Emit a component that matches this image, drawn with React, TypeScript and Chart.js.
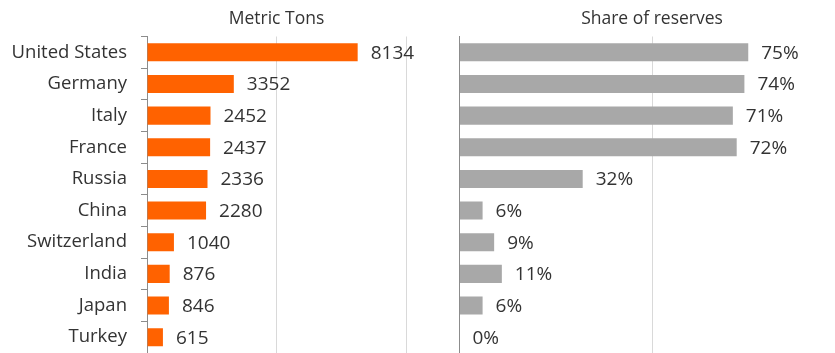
import React, { useEffect, useRef } from "react";
import { Chart, registerables } from "chart.js";

Chart.register(...registerables);

const countries = ["United States", "Germany", "Italy", "France", "Russia", "China", "Switzerland", "India", "Japan", "Turkey"];
const metricTons = [8134, 3352, 2452, 2437, 2336, 2280, 1040, 876, 846, 615];
const shareOfReserves = [75, 74, 71, 72, 32, 6, 9, 11, 6, 0];
const leftTitle = "Metric Tons";
const rightTitle = "Share of reserves";

const FONT = "'Open Sans', 'Noto Sans', sans-serif";
const TEXT = "#333333";

const valueLabels = {
  id: "valueLabels",
  afterDatasetsDraw(chart: any, _args: any, opts: any) {
    const ctx = chart.ctx;
    const meta = chart.getDatasetMeta(0);
    const data = chart.data.datasets[0].data;
    ctx.save();
    ctx.font = `${opts.size || 17}px ${FONT}`;
    ctx.fillStyle = TEXT;
    ctx.textAlign = "left";
    ctx.textBaseline = "middle";
    meta.data.forEach((bar: any, i: number) => {
      const txt = String(data[i]) + (opts.suffix || "");
      ctx.fillText(txt, bar.x + 13, bar.y + 1);
    });
    ctx.restore();
  },
};

function makeConfig(values: number[], color: string, title: string, max: number, step: number, yWidth: number, padRight: number, showLabels: boolean, suffix: string) {
  return {
    type: "bar" as const,
    data: {
      labels: countries,
      datasets: [
        {
          data: values,
          backgroundColor: color,
          borderWidth: 0,
          barPercentage: 0.57,
          categoryPercentage: 1,
        },
      ],
    },
    options: {
      indexAxis: "y" as const,
      animation: false as const,
      responsive: false,
      maintainAspectRatio: false,
      layout: { padding: { top: 0, right: padRight, bottom: 0, left: 0 } },
      plugins: {
        legend: { display: false },
        tooltip: { enabled: false },
        title: {
          display: true,
          text: title,
          fullSize: false,
          color: TEXT,
          font: { family: FONT, size: 17.5, weight: "normal" as const, lineHeight: 1.2 },
          padding: { top: 9, bottom: 6.5 },
        },
        valueLabels: { suffix, size: 19 },
      },
      scales: {
        x: {
          min: 0,
          max,
          ticks: { display: false, stepSize: step },
          grid: { color: "#d9d9d9", drawTicks: false, lineWidth: 1 },
          border: { display: false },
        },
        y: {
          afterFit(scale: any) {
            scale.width = yWidth;
            scale.paddingTop = 0;
            scale.paddingBottom = 0;
          },
          ticks: {
            display: showLabels,
            color: TEXT,
            padding: 14,
            font: { family: FONT, size: 18.5 },
          },
          grid: {
            display: showLabels,
            drawOnChartArea: false,
            drawTicks: true,
            tickLength: 6,
            color: "#8c8c8c",
          },
          border: { display: true, color: "#8c8c8c", width: 1 },
        },
      },
    },
    plugins: [valueLabels],
  };
}

function BarPanel(props: { values: number[]; color: string; title: string; max: number; step: number; yWidth: number; padRight: number; showLabels: boolean; suffix: string; left: number; width: number }) {
  const ref = useRef<HTMLCanvasElement>(null);
  useEffect(() => {
    if (!ref.current) return;
    const chart = new Chart(ref.current, makeConfig(props.values, props.color, props.title, props.max, props.step, props.yWidth, props.padRight, props.showLabels, props.suffix) as any);
    return () => chart.destroy();
  }, []);
  return (
    <canvas
      ref={ref}
      width={props.width}
      height={353}
      style={{ position: "absolute", left: props.left, top: 0, width: props.width, height: 353 }}
    />
  );
}

export default function App() {
  return (
    <div style={{ position: "fixed", left: 0, top: 0, width: 835, height: 353, overflow: "hidden", background: "#ffffff" }}>
      <BarPanel values={metricTons} color="#FF6200" title={leftTitle} max={10000} step={5000} yWidth={147} padRight={24} showLabels={true} suffix="" left={0} width={430} />
      <BarPanel values={shareOfReserves} color="#A8A8A8" title={rightTitle} max={100} step={50} yWidth={29.5} padRight={15.5} showLabels={false} suffix="%" left={430} width={430} />
    </div>
  );
}
